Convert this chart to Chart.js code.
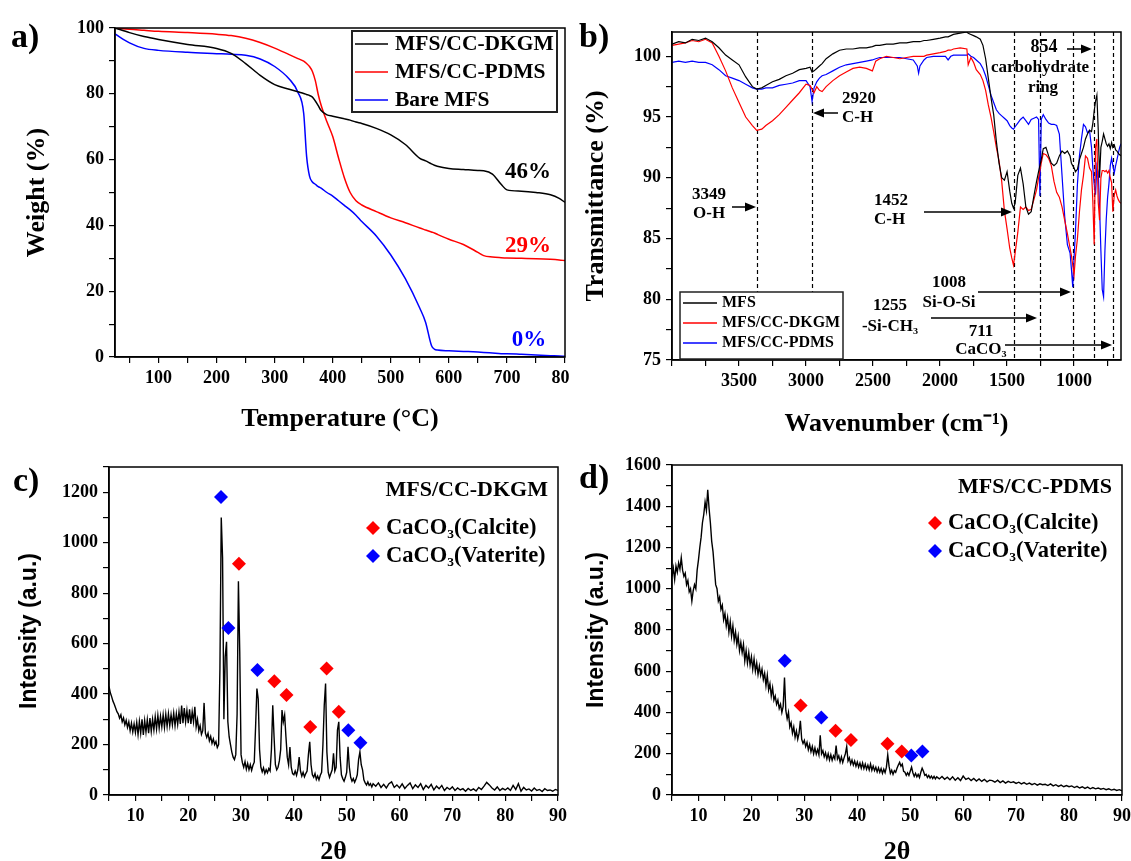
<!DOCTYPE html>
<html>
<head>
<meta charset="utf-8">
<script src="https://cdn.jsdelivr.net/npm/chart.js@4.4.0/dist/chart.umd.min.js"></script>
<style>
  html, body { margin: 0; padding: 0; background: #fff; overflow: hidden; width: 1131px; height: 861px; }
  canvas { position: absolute; }
</style>
</head>
<body>
<canvas id="ca" width="570" height="440" style="left:0;top:0"></canvas>
<canvas id="cb" width="561" height="440" style="left:570px;top:0"></canvas>
<canvas id="cc" width="570" height="440" style="left:0;top:440px"></canvas>
<canvas id="cd" width="561" height="440" style="left:570px;top:440px"></canvas>
<script>
// ---- a) TGA
const tgaTemp = [
  25, 50, 75, 100, 150, 200, 225, 250, 275, 300,
  325, 340, 350, 355, 360, 365, 370, 375, 380, 390,
  400, 410, 420, 430, 440, 450, 475, 500, 525, 550,
  560, 570, 575, 580, 600, 625, 650, 660, 675, 690,
  700, 725, 750, 775, 790, 800
];
const tgaDKGM = [
  100, 98.6, 97.4, 96.5, 95.0, 93.8, 92.3, 89.2, 85.6, 82.8,
  81.4, 80.6, 80.1, 79.8, 79.5, 79.0, 77.8, 76.4, 74.9, 73.6,
  73.2, 72.8, 72.4, 72.0, 71.4, 71.0, 69.5, 67.5, 64.6, 60.4,
  59.6, 58.7, 58.3, 58.0, 57.3, 57.0, 56.7, 56.6, 55.6, 52.5,
  50.8, 50.4, 50.0, 49.3, 48.2, 47.0
];
const tgaPDMS = [
  100, 99.6, 99.3, 99.0, 98.6, 98.1, 97.7, 96.9, 95.6, 93.9,
  91.9, 90.7, 89.9, 89.2, 88.3, 86.8, 84.0, 79.8, 76.5, 71.5,
  67.0, 60.5, 54.5, 50.0, 47.5, 46.2, 44.2, 42.3, 40.8, 39.2,
  38.6, 38.0, 37.7, 37.3, 35.8, 34.2, 31.8, 30.8, 30.4, 30.2,
  30.1, 30.0, 29.9, 29.7, 29.5, 29.3
];
const tgaBare = [
  98.2, 95.5, 93.8, 93.2, 92.6, 92.2, 92.0, 91.7, 90.6, 88.3,
  84.5, 80.5, 74.0, 61.0, 55.0, 53.2, 52.5, 51.8, 51.3, 50.0,
  48.9, 47.5, 46.1, 44.7, 43.1, 41.2, 36.8, 31.0, 23.8, 14.8,
  10.5, 3.5, 2.4, 2.1, 1.9, 1.7, 1.5, 1.4, 1.2, 1.0,
  1.0, 0.8, 0.6, 0.4, 0.3, 0.2
];
const tgaNames = ['MFS/CC-DKGM', 'MFS/CC-PDMS', 'Bare MFS'];
const tgaResidue = ['46%', '29%', '0%'];
const tgaTempLabels = [100, 200, 300, 400, 500, 600, 700, 800];
const tgaWeightLabels = [0, 20, 40, 60, 80, 100];

// ---- b) FTIR
const wavenumber = [
  4000, 3950, 3900, 3850, 3800, 3750, 3700, 3650, 3600, 3550,
  3500, 3450, 3400, 3368, 3330, 3300, 3250, 3200, 3150, 3100,
  3050, 3000, 2970, 2955, 2940, 2920, 2900, 2880, 2850, 2800,
  2750, 2700, 2650, 2600, 2550, 2505, 2480, 2450, 2400, 2350,
  2300, 2250, 2200, 2170, 2160, 2150, 2120, 2100, 2050, 2000,
  1960, 1940, 1920, 1900, 1850, 1800, 1790, 1770, 1750, 1730,
  1700, 1680, 1660, 1640, 1620, 1600, 1580, 1560, 1540, 1520,
  1500, 1480, 1465, 1452, 1440, 1420, 1400, 1380, 1360, 1340,
  1320, 1300, 1280, 1265, 1255, 1245, 1230, 1210, 1190, 1170,
  1150, 1130, 1110, 1090, 1070, 1050, 1030, 1020, 1010, 1000,
  990, 975, 960, 945, 930, 915, 900, 885, 870, 860,
  850, 840, 830, 820, 810, 800, 790, 780, 770, 760,
  750, 740, 730, 720, 711, 700, 690, 680, 670, 660,
  650
];
const ftMFS = [
  101.0, 101.2, 101.1, 101.4, 101.3, 101.5, 101.2, 100.7, 100.1, 99.7,
  99.3, 98.3, 97.5, 97.3, 97.4, 97.6, 97.9, 98.1, 98.4, 98.6,
  98.9, 99.0, 99.1, 98.7, 98.8, 99.0, 99.2, 99.4, 99.8, 100.2,
  100.5, 100.6, 100.6, 100.7, 100.7, 100.8, 100.9, 100.9, 101.0, 101.0,
  101.1, 101.1, 101.2, 101.2, 101.2, 101.2, 101.3, 101.3, 101.4, 101.5,
  101.6, 101.6, 101.7, 101.8, 101.9, 102.0, 101.9, 101.8, 101.7, 101.6,
  101.4, 100.9, 99.8, 98.2, 96.6, 95.2, 93.0, 91.2, 90.0, 89.8,
  90.5, 88.9, 87.9, 87.5, 87.9, 90.2, 90.8, 89.5, 87.6, 87.0,
  87.2, 88.5, 89.7, 90.5, 91.0, 91.5, 92.4, 92.5, 91.8, 91.2,
  91.0, 91.2, 91.8, 92.2, 92.0, 92.2, 91.8, 91.2, 91.0, 90.8,
  90.5, 90.7, 91.5, 92.0, 92.5, 93.2, 93.6, 93.9, 93.8, 94.5,
  95.5, 96.3, 96.8, 94.0, 90.0, 92.5, 93.0, 93.6, 93.2, 92.8,
  92.6, 92.8, 92.4, 92.9, 92.5, 92.7, 92.3, 92.2, 92.0, 91.9,
  91.8
];
const ftDKGM = [
  100.9, 101.0, 101.1, 101.3, 101.2, 101.4, 101.1, 100.0, 98.8, 97.4,
  96.2, 95.0, 94.3, 93.9, 94.0, 94.3, 94.7, 95.2, 95.8, 96.4,
  97.0, 97.7, 97.6, 97.3, 97.0, 97.5, 97.2, 97.1, 97.5, 98.0,
  98.4, 98.7, 99.0, 99.1, 99.0, 98.8, 99.6, 99.8, 100.0, 99.9,
  99.8, 99.9, 100.0, 100.0, 100.0, 100.0, 100.0, 100.1, 100.2, 100.3,
  100.4, 100.5, 100.5, 100.6, 100.7, 100.6, 99.3, 99.9, 99.5, 98.9,
  98.5, 98.0, 97.2, 96.0, 95.0, 93.8, 92.5, 91.4, 89.7, 87.3,
  85.8, 84.2, 83.4, 82.8, 83.8, 85.5, 87.6, 87.4, 87.6, 87.3,
  87.4, 88.2, 89.0, 90.0, 90.6, 91.2, 92.0, 91.9, 91.6, 91.0,
  89.7, 88.8, 88.4, 87.6, 86.5, 85.4, 84.2, 83.6, 82.8, 82.0,
  83.5, 85.0, 87.2, 89.0, 90.2, 91.8, 91.6, 90.8, 90.5, 88.0,
  84.5, 92.5, 93.2, 88.0, 86.5, 90.0, 90.6, 90.6, 90.5, 90.6,
  90.4, 90.6, 90.0, 89.6, 87.2, 88.6, 89.0, 88.5, 88.2, 88.0,
  87.9
];
const ftPDMS = [
  99.5, 99.6, 99.5, 99.6, 99.5, 99.5, 99.3, 98.9, 98.4, 98.2,
  98.0, 97.7, 97.4, 97.3, 97.3, 97.4, 97.4, 97.6, 97.7, 97.8,
  98.0, 98.0, 97.5, 96.3, 97.4, 97.9, 98.2, 98.4, 98.5, 98.8,
  99.1, 99.3, 99.4, 99.5, 99.6, 99.7, 99.8, 99.9, 99.9, 99.9,
  99.9, 99.8, 99.7, 99.2, 98.6, 99.2, 99.7, 99.9, 100.0, 100.0,
  100.0, 99.7, 100.0, 100.1, 100.1, 100.1, 100.2, 100.0, 99.9, 99.7,
  99.4, 99.0, 98.4, 97.6, 96.8, 96.2, 95.6, 95.3, 95.1, 94.9,
  94.7, 94.3, 94.1, 94.0, 94.2, 94.5, 94.8, 95.0, 94.7, 94.4,
  94.8, 94.9, 95.0, 94.8, 88.5, 94.8, 95.2, 94.8, 94.5, 94.4,
  94.4, 94.3, 93.6, 90.2, 86.8, 84.5, 83.8, 82.5, 81.0, 83.5,
  85.5, 89.5, 91.8, 93.2, 94.4, 94.2, 93.7, 93.9, 92.5, 90.8,
  89.5, 88.6, 91.0, 90.5, 87.6, 84.0, 80.8, 80.2, 84.0, 86.6,
  88.4, 89.5, 91.0, 91.6, 91.0, 90.4, 91.0, 91.5, 92.0, 92.5,
  92.8
];
const ftNames = ['MFS', 'MFS/CC-DKGM', 'MFS/CC-PDMS'];
const ftBands = [3365, 2955, 1452, 1255, 1008, 854, 711];
const ftWnLabels = [1000, 1500, 2000, 2500, 3000, 3500];
const ftTLabels = [75, 80, 85, 90, 95, 100];

// ---- c) XRD MFS/CC-DKGM : 5-55 every 0.25, then 55.5-90 every 0.5
const xrdDKGMfine = [
  430, 405, 390, 372, 360, 345, 330, 322,
  305, 318, 290, 305, 278, 296, 268, 290,
  255, 285, 250, 282, 248, 288, 240, 292,
  245, 300, 238, 295, 250, 298, 245, 305,
  252, 300, 258, 310, 262, 315, 265, 312,
  270, 318, 268, 320, 272, 322, 275, 318,
  278, 325, 275, 322, 280, 330, 282, 355,
  285, 345, 290, 335, 285, 340, 282, 330,
  290, 350, 270, 300, 255, 275, 240, 255,
  365, 245, 228, 245, 215, 232, 205, 222,
  200, 212, 188, 200, 500, 1100, 940, 300,
  548, 607, 290, 230, 200, 170, 150, 140,
  160, 320, 847, 570, 160, 128, 110, 132,
  102, 125, 100, 120, 98, 118, 130, 270,
  422, 380, 180, 110, 92, 108, 85, 100,
  88, 105, 95, 180, 356, 230, 120, 100,
  110, 135, 180, 337, 290, 317, 230, 150,
  120, 190, 110, 85, 80, 95, 78, 100,
  150, 95, 75, 90, 72, 85, 95, 160,
  211, 120, 80, 70, 85, 62, 75, 60,
  78, 90, 200, 356, 442, 170, 90, 70,
  85, 100, 165, 95, 110, 257, 290, 150,
  80, 65, 55, 70, 90, 191, 110, 70,
  55, 65, 50, 62, 80, 140, 171, 120,
  100, 60, 48, 40, 52, 38, 45, 32,
  45
];
const xrdDKGMcoarse = [
  35, 48, 30, 42, 28, 45, 52, 30, 40, 28,
  44, 26, 38, 48, 25, 40, 30, 45, 22, 38,
  28, 42, 20, 35, 25, 38, 18, 30, 22, 32,
  18, 28, 20, 25, 15, 26, 18, 24, 16, 30,
  22, 35, 50, 40, 28, 20, 32, 18, 26, 20,
  28, 18, 38, 22, 45, 15, 30, 20, 24, 16,
  28, 18, 22, 14, 25, 18, 20, 15, 22, 18
];
const calciteC = [[29.6, 917], [36.3, 451], [38.6, 396], [43.1, 270], [46.2, 501], [48.5, 330]];
const vateriteC = [[26.2, 1181], [27.6, 662], [33.1, 495], [50.3, 257], [52.6, 207]];

// ---- d) XRD MFS/CC-PDMS
const xrdPDMSfine = [
  1060, 1100, 1045, 1110, 1080, 1125, 1095, 1150,
  1090, 1060, 1075, 1020, 1040, 985, 1000, 940,
  990, 1020, 1000, 1090, 1140, 1200, 1250, 1320,
  1360, 1420, 1380, 1480, 1390, 1320, 1230, 1180,
  1100, 1020, 1000, 940, 960, 900, 920, 850,
  880, 820, 860, 790, 840, 770, 820, 750,
  790, 730, 770, 700, 740, 690, 730, 650,
  700, 640, 690, 630, 670, 610, 660, 600,
  640, 585, 625, 580, 610, 560, 590, 530,
  580, 510, 540, 480, 520, 460, 480, 440,
  460, 420, 440, 400, 430, 570, 410, 370,
  400, 330, 350, 300, 330, 280, 310, 270,
  300, 360, 270, 250, 265, 235, 255, 220,
  245, 210, 235, 200, 228, 198, 220, 195,
  290, 200, 215, 185, 205, 175, 200, 170,
  195, 168, 190, 175, 240, 175, 190, 160,
  185, 158, 180, 200, 235, 165, 180, 150,
  170, 145, 165, 140, 160, 135, 155, 130,
  155, 128, 150, 125, 145, 122, 150, 120,
  140, 118, 135, 112, 132, 110, 128, 105,
  125, 108, 135, 195, 140, 105, 120, 100,
  118, 110, 130, 145, 158, 140, 150, 115,
  110, 95, 108, 95, 115, 135, 108, 90,
  105, 88, 100, 85, 110, 130, 115, 95,
  100, 85, 95, 82, 92, 80, 90, 78,
  88
];
const xrdPDMScoarse = [
  78, 90, 76, 86, 74, 88, 72, 84, 70, 92,
  76, 82, 70, 80, 68, 78, 66, 76, 64, 72,
  70, 62, 72, 60, 68, 58, 66, 60, 64, 56,
  62, 54, 60, 52, 58, 50, 56, 48, 54, 50,
  52, 46, 54, 44, 50, 42, 48, 40, 46, 40,
  44, 36, 42, 34, 40, 32, 38, 30, 36, 30,
  34, 28, 32, 26, 30, 24, 28, 22, 26, 20
];
const calciteD = [[29.3, 434], [35.9, 311], [38.8, 267], [45.7, 248], [48.4, 211]];
const vateriteD = [[26.3, 651], [33.2, 376], [50.2, 191], [52.3, 211]];
const xrdThetaLabels = [10, 20, 30, 40, 50, 60, 70, 80, 90];
const xrdPhases = ['CaCO\u2083(Calcite)', 'CaCO\u2083(Vaterite)'];

// ---------------------------------------------------------------
const SERIF = "'Liberation Serif','Times New Roman',serif";
const SANS = "'Liberation Sans',Arial,sans-serif";
const RED = '#ff0000', BLUE = '#0000ff';

function axis(o) {
  // tick marks on every multiple of step inside the range
  const ticks = [];
  for (let v = Math.ceil(o.min / o.step - 1e-9) * o.step; v <= o.max + 1e-9; v += o.step) ticks.push(+v.toFixed(3));
  return {
    type: 'linear', min: o.min, max: o.max, reverse: !!o.reverse,
    afterBuildTicks: s => { s.ticks = ticks.map(v => ({ value: v })); },
    afterFit: s => {
      if (s.isHorizontal()) { s.height = o.size; s.paddingLeft = 0; s.paddingRight = 0; }
      else { s.width = o.size; s.paddingTop = 0; s.paddingBottom = 0; }
    },
    ticks: {
      autoSkip: false, maxRotation: 0, color: '#000', padding: 5,
      font: { family: SERIF, size: 18, weight: 'bold' },
      callback: v => (o.labels.includes(v) ? String(v) : '')
    },
    grid: { drawOnChartArea: false, drawTicks: true, tickLength: 6, color: '#000', lineWidth: 1.2 },
    border: { display: true, color: '#000', width: 1.5 },
    title: {
      display: true, text: o.title, color: '#000', padding: o.pad,
      font: { family: o.family || SERIF, size: o.tsize || 26, weight: 'bold', lineHeight: 1.2 }
    }
  };
}

function text(ctx, s, x, y, size, color, align, family) {
  ctx.save();
  ctx.font = 'bold ' + size + 'px ' + (family || SERIF);
  ctx.fillStyle = color || '#000';
  ctx.textAlign = align || 'left';
  ctx.textBaseline = 'middle';
  ctx.fillText(s, x, y);
  ctx.restore();
}
function frame(chart) {
  const { ctx, chartArea: a } = chart;
  ctx.save();
  ctx.strokeStyle = '#000'; ctx.lineWidth = 1.5;
  ctx.strokeRect(a.left, a.top, a.right - a.left, a.bottom - a.top);
  ctx.restore();
}
function arrow(ctx, x1, y, x2) {
  const d = Math.sign(x2 - x1);
  ctx.save();
  ctx.strokeStyle = '#000'; ctx.fillStyle = '#000'; ctx.lineWidth = 1.5;
  ctx.beginPath(); ctx.moveTo(x1, y); ctx.lineTo(x2 - d * 8, y); ctx.stroke();
  ctx.beginPath(); ctx.moveTo(x2, y); ctx.lineTo(x2 - d * 11, y - 4.5); ctx.lineTo(x2 - d * 11, y + 4.5); ctx.closePath(); ctx.fill();
  ctx.restore();
}
function diamond(ctx, x, y, r, color) {
  ctx.save();
  ctx.fillStyle = color;
  ctx.beginPath(); ctx.moveTo(x, y - r); ctx.lineTo(x + r, y); ctx.lineTo(x, y + r); ctx.lineTo(x - r, y); ctx.closePath(); ctx.fill();
  ctx.restore();
}
function sample(ctx, x1, x2, y, color) {
  ctx.save();
  ctx.strokeStyle = color; ctx.lineWidth = 1.5;
  ctx.beginPath(); ctx.moveTo(x1, y); ctx.lineTo(x2, y); ctx.stroke();
  ctx.restore();
}
const zip = (xs, ys) => xs.map((x, i) => ({ x: x, y: ys[i] }));
const base = { responsive: false, animation: false, devicePixelRatio: 1, events: [],
  plugins: { legend: { display: false }, tooltip: { enabled: false } } };

// ---- a)
new Chart(document.getElementById('ca'), {
  type: 'line',
  data: { datasets: [
    { data: zip(tgaTemp, tgaDKGM), borderColor: '#000' },
    { data: zip(tgaTemp, tgaPDMS), borderColor: RED },
    { data: zip(tgaTemp, tgaBare), borderColor: BLUE }
  ].map(d => Object.assign(d, { borderWidth: 1.5, pointRadius: 0, cubicInterpolationMode: 'monotone' })) },
  options: Object.assign({}, base, {
    layout: { padding: { left: 0, top: 28, right: 5, bottom: 0 } },
    scales: {
      x: axis({ min: 25, max: 800, step: 50, labels: tgaTempLabels, size: 83, title: 'Temperature (\u00B0C)', pad: { top: 0, bottom: 5 } }),
      y: axis({ min: 0, max: 100, step: 10, labels: tgaWeightLabels, size: 115, title: 'Weight (%)', pad: { top: 22, bottom: 0 } })
    }
  }),
  plugins: [{ id: 'decoA', afterDraw(chart) {
    const ctx = chart.ctx;
    frame(chart);
    ctx.save(); ctx.strokeStyle = '#222'; ctx.lineWidth = 2; ctx.strokeRect(352, 31, 205, 81); ctx.restore();
    ['#000', RED, BLUE].forEach((c, i) => {
      const y = 44 + 28 * i;
      sample(ctx, 355, 388, y, c);
      text(ctx, tgaNames[i], 395, y, 21.5, '#000');
    });
    text(ctx, tgaResidue[0], 528, 172, 23, '#000', 'center');
    text(ctx, tgaResidue[1], 528, 246, 23, RED, 'center');
    text(ctx, tgaResidue[2], 529, 340, 23, BLUE, 'center');
    text(ctx, 'a)', 11, 38, 34, '#000');
  } }]
});

// ---- b)
new Chart(document.getElementById('cb'), {
  type: 'line',
  data: { datasets: [
    { data: zip(wavenumber, ftMFS), borderColor: '#000' },
    { data: zip(wavenumber, ftDKGM), borderColor: RED },
    { data: zip(wavenumber, ftPDMS), borderColor: BLUE }
  ].map(d => Object.assign(d, { borderWidth: 1.2, pointRadius: 0, tension: 0 })) },
  options: Object.assign({}, base, {
    layout: { padding: { left: 0, top: 32, right: 10, bottom: 0 } },
    scales: {
      x: axis({ min: 650, max: 4000, step: 250, reverse: true, labels: ftWnLabels, size: 80, title: 'Wavenumber (cm\u207B\u00B9)', pad: { top: 0, bottom: 0 } }),
      y: axis({ min: 75, max: 102, step: 2.5, labels: ftTLabels, size: 102, title: 'Transmittance (%)', pad: { top: 11, bottom: 0 } })
    }
  }),
  plugins: [{ id: 'decoB',
    beforeDatasetsDraw(chart) {
      const { ctx, chartArea: a, scales: { x } } = chart;
      ctx.save();
      ctx.strokeStyle = '#000'; ctx.lineWidth = 1.2; ctx.setLineDash([4, 3]);
      ftBands.forEach(w => {
        const px = Math.round(x.getPixelForValue(w)) + 0.5;
        ctx.beginPath(); ctx.moveTo(px, a.top); ctx.lineTo(px, a.bottom); ctx.stroke();
      });
      ctx.restore();
    },
    afterDraw(chart) {
      const ctx = chart.ctx;
      frame(chart);
      text(ctx, '3349', 122, 195, 17); text(ctx, 'O-H', 123, 214, 17); arrow(ctx, 162, 207, 186);
      text(ctx, '2920', 272, 99, 17); text(ctx, 'C-H', 272, 118, 17); arrow(ctx, 268, 113, 243);
      text(ctx, '1452', 304, 201, 17); text(ctx, 'C-H', 304, 220, 17); arrow(ctx, 354, 212, 442);
      text(ctx, '1008', 379, 283, 17, '#000', 'center'); text(ctx, 'Si-O-Si', 379, 303, 17, '#000', 'center'); arrow(ctx, 408, 292, 501);
      text(ctx, '1255', 320, 306, 17, '#000', 'center'); text(ctx, '-Si-CH\u2083', 320, 327, 17, '#000', 'center'); arrow(ctx, 361, 318, 467);
      text(ctx, '711', 411, 332, 17, '#000', 'center'); text(ctx, 'CaCO\u2083', 411, 350, 17, '#000', 'center'); arrow(ctx, 435, 345, 542);
      text(ctx, '854', 474, 47, 18, '#000', 'center'); arrow(ctx, 497, 49, 522);
      text(ctx, 'carbohydrate', 470, 68, 17, '#000', 'center'); text(ctx, 'ring', 473, 88, 17, '#000', 'center');
      ctx.save(); ctx.fillStyle = '#fff'; ctx.fillRect(110, 292, 163, 67);
      ctx.strokeStyle = '#222'; ctx.lineWidth = 1.5; ctx.strokeRect(110, 292, 163, 67); ctx.restore();
      ['#000', RED, BLUE].forEach((c, i) => {
        const y = 303 + 20 * i;
        sample(ctx, 113, 147, y, c);
        text(ctx, ftNames[i], 152, y, 16, '#000');
      });
      text(ctx, 'b)', 9, 38, 34, '#000');
    }
  }]
});

// ---- c) and d)
function xrdChart(id, fine, coarse, calcite, vaterite, ymax, ylabels, opt) {
  const trace = fine.map((v, i) => ({ x: 5 + i * 0.25, y: v }))
    .concat(coarse.map((v, i) => ({ x: 55.5 + i * 0.5, y: v })));
  const marks = (pts, c) => ({ data: pts.map(p => ({ x: p[0], y: p[1] })), showLine: false,
    pointStyle: 'rectRot', pointRadius: 7, backgroundColor: c, borderColor: c, borderWidth: 0, order: 0 });
  return new Chart(document.getElementById(id), {
    type: 'line',
    data: { datasets: [
      marks(calcite, RED), marks(vaterite, BLUE),
      { data: trace, borderColor: '#000', borderWidth: 1.4, pointRadius: 0, tension: 0, order: 2 }
    ] },
    options: Object.assign({}, base, {
      layout: { padding: { left: 0, top: opt.top, right: opt.right, bottom: 0 } },
      scales: {
        x: axis({ min: 5, max: 90, step: 5, labels: xrdThetaLabels, size: 85, title: '2\u03B8', pad: { top: 0, bottom: 12 } }),
        y: axis({ min: 0, max: ymax, step: 100, labels: ylabels, size: opt.left, title: 'Intensity (a.u.)', family: SANS, tsize: 23, pad: { top: opt.tpad, bottom: 0 } })
      }
    }),
    plugins: [{ id: 'deco' + id, afterDraw(chart) {
      const ctx = chart.ctx;
      frame(chart);
      text(ctx, opt.name, opt.nameX, opt.nameY, 22, '#000', 'right');
      diamond(ctx, opt.legX, opt.legY, 7, RED);
      text(ctx, xrdPhases[0], opt.legX + 13, opt.legY, 22.5, '#000');
      diamond(ctx, opt.legX, opt.legY + 28, 7, BLUE);
      text(ctx, xrdPhases[1], opt.legX + 13, opt.legY + 28, 22.5, '#000');
      text(ctx, opt.tag, opt.tagX, opt.tagY, 34, '#000');
    } }]
  });
}
xrdChart('cc', xrdDKGMfine, xrdDKGMcoarse, calciteC, vateriteC, 1300,
  [0, 200, 400, 600, 800, 1000, 1200],
  { top: 27, right: 12, left: 109, tpad: 16, name: 'MFS/CC-DKGM', nameX: 548, nameY: 50,
    legX: 373, legY: 88, tag: 'c)', tagX: 13, tagY: 42 });
xrdChart('cd', xrdPDMSfine, xrdPDMScoarse, calciteD, vateriteD, 1600,
  [0, 200, 400, 600, 800, 1000, 1200, 1400, 1600],
  { top: 25, right: 9, left: 102, tpad: 13, name: 'MFS/CC-PDMS', nameX: 542, nameY: 47,
    legX: 365, legY: 83, tag: 'd)', tagX: 9, tagY: 39 });
</script>
</body>
</html>
